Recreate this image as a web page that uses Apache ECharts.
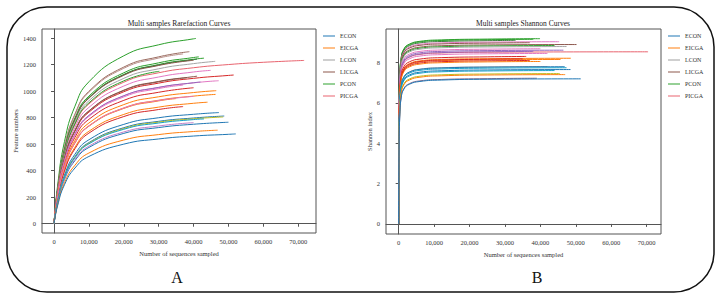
<!DOCTYPE html>
<html>
<head>
<meta charset="utf-8">
<script src="https://cdn.jsdelivr.net/npm/echarts@6/dist/echarts.min.js"></script>
<style>
  html, body { margin: 0; padding: 0; background: #fff; }
  #chart { width: 719px; height: 296px; }
</style>
</head>
<body>
<div id="chart"></div>
<script>
// grupos de la leyenda
const groups = ['ECON', 'EICGA', 'LCON', 'LICGA', 'PCON', 'PICGA'];

// ticks
const xTicks = [0, 10000, 20000, 30000, 40000, 50000, 60000, 70000];
const rareYTicks = [0, 200, 400, 600, 800, 1000, 1200, 1400];
const shanYTicks = [0, 2, 4, 6, 8];

// curvas de rarefaccion: profundidades comunes, ultimo valor = fin de la curva
const rareDepths = [0, 1000, 3000, 6000, 10000, 20000, 30000, 40000, 50000, 60000];
const rareGroup = ['PCON', 'LICGA', 'LCON', 'PCON', 'PCON', 'PCON', 'LICGA', 'LCON',
  'PICGA', 'PCON', 'PICGA', 'PICGA', 'LICGA', 'LICGA', 'PICGA', 'LICGA',
  'PICGA', 'LCON', 'EICGA', 'EICGA', 'EICGA', 'EICGA', 'PICGA', 'LCON',
  'ECON', 'ECON', 'EICGA', 'ECON', 'LCON', 'ECON', 'EICGA', 'ECON'];
const rareEnd = [40700, 38800, 37000, 41500, 43000, 41000, 40000, 46200,
  71700, 30200, 44900, 51500, 41000, 38000, 47200, 42000,
  40000, 37000, 46500, 46300, 34900, 44000, 37000, 40000,
  47300, 48800, 48500, 50000, 40000, 43000, 46900, 52100];
const rareValues = [
  [0, 282, 620, 886, 1070, 1266, 1349, 1394, 1397],
  [0, 263, 579, 827, 998, 1181, 1258, 1297],
  [0, 261, 574, 821, 991, 1172, 1249, 1280],
  [0, 253, 558, 797, 962, 1138, 1213, 1253, 1258],
  [0, 251, 552, 788, 951, 1125, 1200, 1240, 1248],
  [0, 250, 550, 786, 949, 1123, 1197, 1237, 1240],
  [0, 249, 548, 783, 946, 1119, 1193, 1232],
  [0, 244, 537, 767, 927, 1096, 1168, 1207, 1224],
  [0, 238, 523, 747, 903, 1067, 1138, 1176, 1200, 1217, 1231],
  [0, 240, 528, 754, 911, 1077, 1149],
  [0, 231, 509, 727, 877, 1038, 1106, 1144, 1156],
  [0, 222, 488, 696, 841, 995, 1060, 1096, 1118, 1121],
  [0, 224, 494, 705, 851, 1007, 1073, 1109, 1112],
  [0, 224, 492, 702, 849, 1004, 1070, 1100],
  [0, 215, 472, 674, 815, 964, 1027, 1062, 1078],
  [0, 215, 473, 675, 816, 965, 1028, 1063, 1068],
  [0, 207, 456, 651, 787, 930, 991, 1025],
  [0, 213, 469, 669, 809, 956, 1019, 1045],
  [0, 200, 440, 628, 759, 898, 957, 989, 1003],
  [0, 195, 428, 611, 738, 873, 931, 962, 975],
  [0, 194, 426, 608, 735, 869, 926, 943],
  [0, 184, 404, 577, 697, 824, 879, 908, 916],
  [0, 180, 396, 565, 683, 808, 861, 883],
  [0, 194, 427, 610, 737, 872, 929, 960],
  [0, 167, 367, 524, 633, 749, 799, 825, 838],
  [0, 161, 355, 506, 612, 724, 772, 797, 812],
  [0, 160, 352, 502, 607, 718, 766, 791, 805],
  [0, 152, 334, 476, 575, 681, 725, 750, 765],
  [0, 154, 339, 484, 585, 692, 737, 762],
  [0, 159, 349, 498, 602, 712, 759, 785, 790],
  [0, 141, 309, 441, 533, 631, 672, 695, 705],
  [0, 134, 294, 420, 507, 600, 639, 661, 674, 677]
];

// curvas de Shannon
const shanDepths = [0, 100, 300, 700, 1500, 3000, 6000, 12000, 25000];
const shanGroup = ['PCON', 'PCON', 'PCON', 'PICGA', 'LICGA', 'LICGA', 'PCON', 'LCON',
  'LCON', 'LICGA', 'PICGA', 'LICGA', 'PICGA', 'PICGA', 'EICGA', 'EICGA',
  'PICGA', 'PICGA', 'EICGA', 'LCON', 'ECON', 'ECON', 'ECON', 'ECON',
  'EICGA', 'EICGA', 'LICGA', 'ECON'];
const shanEnd = [39900, 38000, 33000, 45300, 37000, 50200, 44000, 47400,
  40000, 46500, 70400, 38000, 42000, 36000, 48600, 45700,
  35000, 37000, 40000, 42000, 46900, 47400, 48500, 44000,
  45500, 47000, 39000, 51400];
const shanValues = [
  [0, 5.68, 7.28, 8.23, 8.68, 8.91, 9.05, 9.12, 9.16, 9.18],
  [0, 5.65, 7.25, 8.20, 8.65, 8.88, 9.02, 9.09, 9.13, 9.15],
  [0, 5.60, 7.20, 8.15, 8.60, 8.83, 8.97, 9.04, 9.08, 9.10],
  [0, 5.53, 7.13, 8.08, 8.53, 8.76, 8.90, 8.97, 9.01, 9.03],
  [0, 5.48, 7.08, 8.03, 8.48, 8.71, 8.85, 8.92, 8.96, 8.98],
  [0, 5.39, 6.99, 7.94, 8.39, 8.62, 8.76, 8.83, 8.87, 8.89],
  [0, 5.34, 6.94, 7.89, 8.34, 8.57, 8.71, 8.78, 8.82, 8.84],
  [0, 5.29, 6.89, 7.84, 8.29, 8.52, 8.66, 8.73, 8.77, 8.79],
  [0, 5.18, 6.78, 7.73, 8.18, 8.41, 8.55, 8.62, 8.66, 8.68],
  [0, 5.11, 6.71, 7.66, 8.11, 8.34, 8.48, 8.55, 8.59, 8.61],
  [0, 5.03, 6.63, 7.58, 8.03, 8.26, 8.40, 8.47, 8.51, 8.53],
  [0, 5.05, 6.65, 7.60, 8.05, 8.28, 8.42, 8.49, 8.53, 8.55],
  [0, 4.95, 6.55, 7.50, 7.95, 8.18, 8.32, 8.39, 8.43, 8.45],
  [0, 4.80, 6.40, 7.35, 7.80, 8.03, 8.17, 8.24, 8.28, 8.30],
  [0, 4.71, 6.31, 7.26, 7.71, 7.94, 8.08, 8.15, 8.19, 8.21],
  [0, 4.65, 6.25, 7.20, 7.65, 7.88, 8.02, 8.09, 8.13, 8.15],
  [0, 4.68, 6.28, 7.23, 7.68, 7.91, 8.05, 8.12, 8.16, 8.18],
  [0, 4.60, 6.20, 7.15, 7.60, 7.83, 7.97, 8.04, 8.08, 8.10],
  [0, 4.55, 6.15, 7.10, 7.55, 7.78, 7.92, 7.99, 8.03, 8.05],
  [0, 4.30, 5.90, 6.85, 7.30, 7.53, 7.67, 7.74, 7.78, 7.80],
  [0, 4.29, 5.89, 6.84, 7.29, 7.52, 7.66, 7.73, 7.77, 7.79],
  [0, 4.24, 5.84, 6.79, 7.24, 7.47, 7.61, 7.68, 7.72, 7.74],
  [0, 4.15, 5.75, 6.70, 7.15, 7.38, 7.52, 7.59, 7.63, 7.65],
  [0, 4.10, 5.70, 6.65, 7.10, 7.33, 7.47, 7.54, 7.58, 7.60],
  [0, 3.95, 5.55, 6.50, 6.95, 7.18, 7.32, 7.39, 7.43, 7.45],
  [0, 3.90, 5.50, 6.45, 6.90, 7.13, 7.27, 7.34, 7.38, 7.40],
  [0, 3.72, 5.32, 6.27, 6.72, 6.95, 7.09, 7.16, 7.20, 7.22],
  [0, 3.69, 5.29, 6.24, 6.69, 6.92, 7.06, 7.13, 7.17, 7.19]
];

// estilos (colores por grupo y por curva)
const legendColors = ['#1f77b4', '#ff7f0e', '#9f9f9f', '#8c564b', '#2ca02c', '#e8636e'];
const rareColors = ['#2ca02c', '#9a6a5e', '#b9918a', '#2ca02c', '#2ca02c', '#2f7f3a', '#8c564b', '#a5a5a5',
  '#e8636e', '#2ca02c', '#e377c2', '#d62728', '#8c564b', '#8c564b', '#e377c2', '#9467bd',
  '#d62728', '#e377c2', '#ff7f0e', '#ff7f0e', '#ff7f0e', '#ff7f0e', '#d62728', '#e377c2',
  '#1f77b4', '#1f77b4', '#bcbd22', '#1f77b4', '#c17fc9', '#17a0c8', '#ff7f0e', '#1f77b4'];
const shanColors = ['#2ca02c', '#2ca02c', '#3b7d3b', '#e377c2', '#8c564b', '#8c564b', '#2ca02c', '#a5a5a5',
  '#e377c2', '#9467bd', '#e8636e', '#9467bd', '#e377c2', '#d62728', '#ff7f0e', '#ff7f0e',
  '#d62728', '#d62728', '#ff7f0e', '#a5a5a5', '#1f77b4', '#17a0c8', '#1f77b4', '#17a0c8',
  '#bcbd22', '#ff7f0e', '#8c6d8c', '#1f77b4'];

const serif = 'Liberation Serif';
const axisColor = '#555';

function fmtThousands(v) {
    return String(v).replace(/\B(?=(\d{3})+(?!\d))/g, ',');
}

function buildSeries(depths, ends, values, grp, colors, idx) {
    return values.map((vals, i) => ({
        type: 'line',
        name: grp[i],
        xAxisIndex: idx,
        yAxisIndex: idx,
        data: vals.map((v, j) => [j === vals.length - 1 ? ends[i] : depths[j], v]),
        symbol: 'none',
        smooth: 0.5,
        silent: true,
        lineStyle: { width: 1, color: colors[i] },
        itemStyle: { color: colors[i] }
    }));
}

function xAxisCfg(idx, min, max) {
    return {
        type: 'value', gridIndex: idx, min: min, max: max,
        name: 'Number of sequences sampled', nameLocation: 'middle', nameGap: 12,
        nameTextStyle: { fontFamily: serif, fontSize: 6.5, color: '#333' },
        axisLine: { show: true, lineStyle: { color: axisColor } },
        axisTick: { show: true, length: 3, lineStyle: { color: axisColor }, customValues: xTicks },
        axisLabel: { fontFamily: serif, fontSize: 6.5, color: '#333', margin: 5,
            customValues: xTicks, formatter: fmtThousands },
        splitLine: { show: false }
    };
}

function yAxisCfg(idx, min, max, ticks, name, gap) {
    return {
        type: 'value', gridIndex: idx, min: min, max: max,
        name: name, nameLocation: 'middle', nameGap: gap, nameRotate: 90,
        nameTextStyle: { fontFamily: serif, fontSize: 6.5, color: '#333' },
        axisLine: { show: true, lineStyle: { color: axisColor } },
        axisTick: { show: true, length: 3, lineStyle: { color: axisColor }, customValues: ticks },
        axisLabel: { fontFamily: serif, fontSize: 6.5, color: '#333', margin: 6, customValues: ticks,
            formatter: v => String(v) },
        splitLine: { show: false }
    };
}

function legendCfg(left) {
    return {
        orient: 'vertical', left: left, top: 27,
        icon: 'rect', itemWidth: 12, itemHeight: 1, itemGap: 4,
        selectedMode: false,
        textStyle: { fontFamily: serif, fontSize: 6, color: '#333', lineHeight: 8 },
        data: groups.map((g, i) => ({
            name: g,
            itemStyle: { color: legendColors[i], borderWidth: 0 }
        }))
    };
}

const chart = echarts.init(document.getElementById('chart'), null, { renderer: 'svg' });

const option = {
    animation: false,
    backgroundColor: '#fff',
    grid: [
        { left: 42, top: 29, width: 274, height: 204, show: true, borderColor: axisColor, borderWidth: 1,
          containLabel: false, outerBoundsMode: 'none' },
        { left: 386, top: 29, width: 275, height: 205, show: true, borderColor: axisColor, borderWidth: 1,
          containLabel: false, outerBoundsMode: 'none' }
    ],
    xAxis: [xAxisCfg(0, -3450, 75100), xAxisCfg(1, -3580, 74050)],
    yAxis: [
        yAxisCfg(0, -70, 1468, rareYTicks, 'Feature numbers', 22),
        yAxisCfg(1, -0.5, 9.66, shanYTicks, 'Shannon index', 10)
    ],
    legend: [legendCfg(318), legendCfg(663)],
    graphic: [
        { type: 'rect', shape: { x: 7, y: 7, width: 707, height: 285, r: 40 },
          style: { fill: 'none', stroke: '#111', lineWidth: 1.5 }, silent: true },
        { type: 'text', x: 179, y: 23,
          style: { text: 'Multi samples Rarefaction Curves', fontFamily: serif, fontSize: 7.5,
                   fill: '#222', textAlign: 'center', textVerticalAlign: 'middle' } },
        { type: 'text', x: 523, y: 23,
          style: { text: 'Multi samples Shannon Curves', fontFamily: serif, fontSize: 7.5,
                   fill: '#222', textAlign: 'center', textVerticalAlign: 'middle' } },
        { type: 'text', x: 177, y: 277,
          style: { text: 'A', fontFamily: serif, fontSize: 16, fill: '#111',
                   textAlign: 'center', textVerticalAlign: 'middle' } },
        { type: 'text', x: 537, y: 277,
          style: { text: 'B', fontFamily: serif, fontSize: 16, fill: '#111',
                   textAlign: 'center', textVerticalAlign: 'middle' } }
    ],
    series: [
        ...buildSeries(rareDepths, rareEnd, rareValues, rareGroup, rareColors, 0),
        ...buildSeries(shanDepths, shanEnd, shanValues, shanGroup, shanColors, 1)
    ]
};

chart.setOption(option);
window.addEventListener('resize', function() {
    chart.resize();
});
</script>
</body>
</html>
